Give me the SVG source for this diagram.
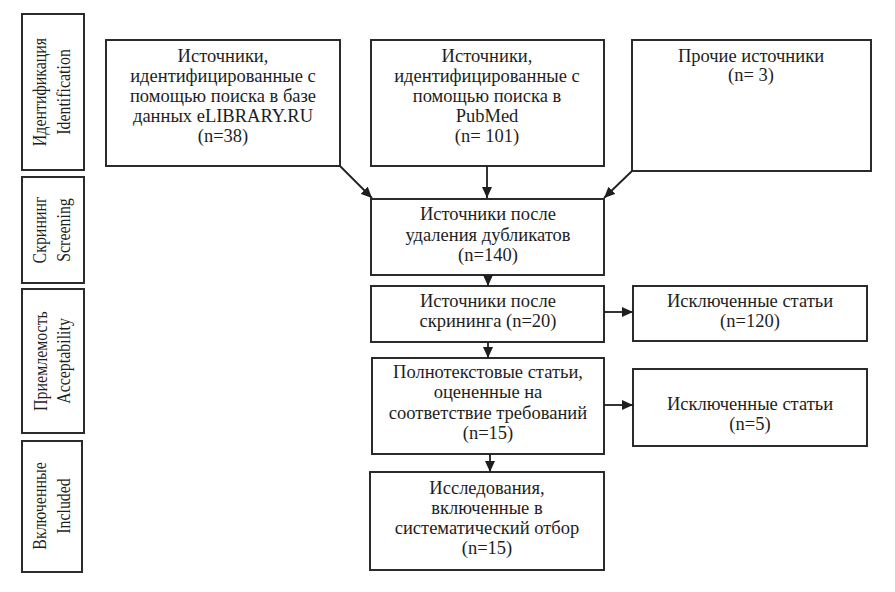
<svg xmlns="http://www.w3.org/2000/svg" width="895" height="592" viewBox="0 0 895 592">
<defs>
<style>
.box{fill:#fff;stroke:#2b2b2b;stroke-width:2}
.c{stroke:#1e1e1e;stroke-width:1.8;fill:none}
</style>
<marker id="ah" markerUnits="userSpaceOnUse" markerWidth="11" markerHeight="10" refX="11" refY="5" orient="auto" viewBox="0 0 11 10">
<path d="M0,0 L11,5 L0,10 z" fill="#1e1e1e"/>
</marker>
</defs>
<rect width="895" height="592" fill="#fff"/>

<g font-family="Liberation Serif, serif" font-size="18.5" fill="#1e1e1e" text-anchor="middle">
<g id="stage-identification">
<rect class="box" x="22" y="14" width="62" height="156"/>
<text transform="translate(46,92) rotate(-90) scale(0.86,1)">Идентификация</text>
<text transform="translate(70,92) rotate(-90) scale(0.86,1)">Identification</text>
</g>
<g id="stage-screening">
<rect class="box" x="22" y="177" width="62" height="106"/>
<text transform="translate(46,230) rotate(-90) scale(0.86,1)">Скрининг</text>
<text transform="translate(70,230) rotate(-90) scale(0.86,1)">Screening</text>
</g>
<g id="stage-acceptability">
<rect class="box" x="22" y="289" width="62" height="144"/>
<text transform="translate(47,361) rotate(-90) scale(0.86,1)">Приемлемость</text>
<text transform="translate(70,361) rotate(-90) scale(0.86,1)">Acceptability</text>
</g>
<g id="stage-included">
<rect class="box" x="22" y="441" width="60" height="131"/>
<text transform="translate(46,506) rotate(-90) scale(0.86,1)">Включенные</text>
<text transform="translate(70,506) rotate(-90) scale(0.86,1)">Included</text>
</g>

<g id="src-elibrary">
<rect class="box" x="106" y="40" width="234" height="126"/>
<text x="223" y="62">Источники,</text>
<text x="223" y="82">идентифицированные с</text>
<text x="223" y="102">помощью поиска в базе</text>
<text x="223" y="122">данных eLIBRARY.RU</text>
<text x="223" y="142">(n=38)</text>
</g>
<g id="src-pubmed">
<rect class="box" x="371" y="40" width="233" height="126"/>
<text x="487" y="62">Источники,</text>
<text x="487" y="82">идентифицированные с</text>
<text x="487" y="102">помощью поиска в</text>
<text x="487" y="122">PubMed</text>
<text x="487" y="142">(n= 101)</text>
</g>
<g id="src-other">
<rect class="box" x="632" y="40" width="239" height="131"/>
<text x="751" y="62">Прочие источники</text>
<text x="751" y="81">(n= 3)</text>
</g>
<g id="dedup">
<rect class="box" x="371" y="199" width="233" height="76"/>
<text x="488" y="220">Источники после</text>
<text x="488" y="241">удаления дубликатов</text>
<text x="488" y="261">(n=140)</text>
</g>
<g id="screened">
<rect class="box" x="371" y="286" width="233" height="56"/>
<text x="488" y="307">Источники после</text>
<text x="488" y="327">скрининга (n=20)</text>
</g>
<g id="excluded-1">
<rect class="box" x="633" y="286" width="234" height="55"/>
<text x="750" y="307">Исключенные статьи</text>
<text x="750" y="327">(n=120)</text>
</g>
<g id="fulltext">
<rect class="box" x="372" y="358" width="232" height="96"/>
<text x="488" y="378">Полнотекстовые статьи,</text>
<text x="488" y="398">оцененные на</text>
<text x="488" y="419">соответствие требований</text>
<text x="488" y="439">(n=15)</text>
</g>
<g id="excluded-2">
<rect class="box" x="633" y="369" width="234" height="77"/>
<text x="750" y="410">Исключенные статьи</text>
<text x="750" y="430">(n=5)</text>
</g>
<g id="included">
<rect class="box" x="370" y="472" width="234" height="98"/>
<text x="487" y="494">Исследования,</text>
<text x="487" y="514">включенные в</text>
<text x="487" y="534">систематический отбор</text>
<text x="487" y="554">(n=15)</text>
</g>
</g>

<g id="connectors">
<line class="c" x1="340" y1="166" x2="372" y2="198" marker-end="url(#ah)"/>
<line class="c" x1="487" y1="166" x2="487" y2="198" marker-end="url(#ah)"/>
<line class="c" x1="632" y1="171" x2="604" y2="198" marker-end="url(#ah)"/>
<line class="c" x1="488" y1="275" x2="488" y2="286" marker-end="url(#ah)"/>
<line class="c" x1="604" y1="312" x2="633" y2="312" marker-end="url(#ah)"/>
<line class="c" x1="488" y1="342" x2="488" y2="358" marker-end="url(#ah)"/>
<line class="c" x1="604" y1="405" x2="633" y2="405" marker-end="url(#ah)"/>
<line class="c" x1="490" y1="454" x2="490" y2="472" marker-end="url(#ah)"/>
</g>
</svg>
